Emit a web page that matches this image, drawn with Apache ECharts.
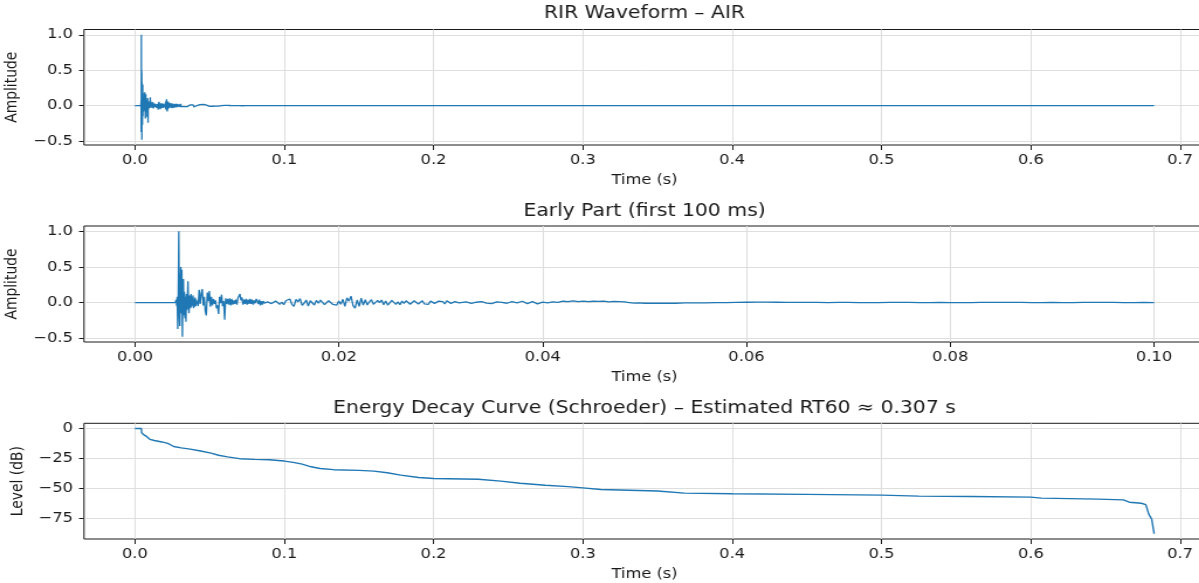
<!DOCTYPE html>
<html>
<head>
<meta charset="utf-8">
<script src="https://cdn.jsdelivr.net/npm/echarts@6/dist/echarts.min.js"></script>
<style>
  html, body { margin: 0; padding: 0; background: #fff; overflow: hidden; }
  /* the reference figure is stretched sideways, so draw narrower and widen */
  #chart { width: 1025px; height: 583px; transform: scaleX(1.1698); transform-origin: 0 0; }
</style>
</head>
<body>
<div id="chart"></div>
<script>
// RIR samples (times in ms, amplitude normalised)
const preMs = [0, 3.95];
const preAmp = [0, 0];

// burst: 4.00 .. 6.00 ms every 0.05 ms
const burstStart = 4.0, burstStep = 0.05;
const burstAmp = [
  0.00, 0.04, -0.05, 0.08, -0.37, 0.12, 1.00, -0.10, -0.33, 0.20,
  0.50, -0.15, 0.46, -0.48, 0.10, 0.33, -0.18, 0.15, -0.22, 0.08,
  -0.27, 0.12, -0.10, 0.06, 0.30, -0.05, -0.15, 0.10, 0.04, -0.08,
  0.12, -0.06, 0.08, -0.04, 0.10, -0.08, 0.05, -0.06, 0.07, -0.05, 0.04
];

// early reflections: 6.1 .. 13.0 ms every 0.1 ms
const reflStart = 6.1, reflStep = 0.1;
const reflAmp = [
  0.06, -0.05, 0.18, -0.02, 0.12, 0.19, -0.04, 0.08, -0.12, -0.18,
  0.14, 0.02, 0.16, -0.06, 0.08, -0.04, 0.05, -0.02, 0.03, -0.08,
  -0.04, -0.16, 0.08, -0.01, 0.11, -0.05, 0.02, -0.24, 0.06, -0.02,
  0.05, -0.03, 0.06, -0.04, 0.05, -0.03, 0.03, -0.02, 0.04, -0.03,
  0.06, 0.08, 0.12, 0.03, 0.07, -0.03, 0.04, -0.02, 0.05, -0.03,
  0.04, -0.02, 0.05, -0.02, 0.04, -0.03, 0.03, -0.01, 0.05, 0.02,
  -0.02, 0.04, -0.04, 0.02, -0.03, 0.02, -0.01, 0.01, -0.02, 0.01
];

// diffuse part: 13.2 .. 32.0 ms every 0.2 ms
const diffStart = 13.2, diffStep = 0.2;
const diffAmp = [
  0.03, -0.015, -0.035, 0.02, 0.035, -0.025, 0.005, -0.03, 0.025, 0.01,
  0.05, -0.025, -0.055, 0.045, 0.01, 0.055, -0.04, -0.01, 0.035, -0.05,
  0.025, 0.005, -0.035, 0.03, -0.01, 0.035, 0.01, -0.03, -0.02, 0.025, 0.035, -0.025, 0.0, -0.035, 0.02,
  -0.025, 0.045, -0.055, 0.065, 0.02, 0.09, -0.045, -0.08, 0.035, -0.055, 0.06, -0.035, 0.04,
  -0.035, 0.01, 0.04, -0.025, -0.04, 0.03, 0.0, 0.035, -0.03, 0.02, -0.035, -0.005, 0.03, 0.04, -0.025, 0.01, -0.03,
  0.02, -0.012, 0.025, 0.005, -0.025, -0.01, 0.025, 0.01, -0.02, 0.0,
  0.025, -0.02, 0.005, -0.025, 0.02, 0.01, -0.012, -0.025, 0.02, 0.0,
  0.012, -0.02, 0.025, 0.005, -0.012, -0.025, 0.012, 0.02, -0.005, -0.02
];

// late part: 32.5 .. 50 ms every 0.5 ms
const lateStart = 32.5, lateStep = 0.5;
const lateAmp = [
  0.01, -0.012, 0.004, 0.012, -0.008, -0.014, 0.01, 0.002, -0.01, 0.012, -0.004,
  0.018, -0.015, 0.012, -0.018,
  0.006, -0.006, 0.008, 0.002,
  0.018, 0.012, 0.022, 0.014, 0.02, 0.012, 0.018, 0.016, 0.02, 0.01, 0.016, 0.012, 0.008,
  0.0, -0.008, -0.004, -0.01
];

// tail of first 100 ms: 51 .. 100 ms every 1 ms
const endStart = 51, endStep = 1;
const endAmp = [
  -0.01, -0.008, -0.01,
  -0.006, -0.004, -0.005, -0.002, 0.0, 0.002, 0.004,
  0.006, 0.005, 0.004, 0.003, 0.002, 0.002,
  0.001, 0.0, 0.002, 0.001, 0.0, -0.001, 0.0, 0.001, 0.002, 0.001,
  0.0, 0.0, 0.001, 0.0, -0.001, 0.0, 0.001, 0.002, 0.003, 0.002,
  0.001, 0.0, 0.0, 0.001, 0.0, 0.0, 0.001, 0.002, 0.002, 0.001,
  0.0, 0.0, 0.001, 0.0
];

// rest of the response up to the end of the file
const tailMs = [110, 150, 200, 300, 400, 500, 600, 682.6];
const tailAmp = [0.001, 0.0, 0.001, 0.0, 0.0, 0.0, 0.0, 0.0];

// Schroeder energy decay curve
const edcSec = [
  0.000, 0.0043, 0.0045, 0.006, 0.008, 0.010, 0.013, 0.018, 0.022, 0.026,
  0.031, 0.037, 0.044, 0.051, 0.056, 0.062, 0.070, 0.080, 0.090, 0.100,
  0.106, 0.112, 0.118, 0.124, 0.133, 0.150, 0.160, 0.169, 0.178, 0.190,
  0.200, 0.230, 0.245, 0.258, 0.275, 0.290, 0.300, 0.312, 0.350, 0.368,
  0.400, 0.450, 0.500, 0.525, 0.560, 0.600, 0.607, 0.645, 0.662, 0.666,
  0.674, 0.677, 0.679, 0.681, 0.6826
];
const edcDb = [
  0, 0, -3.5, -5.3, -6.8, -9, -10, -11.2, -12.4, -15,
  -16.2, -17.2, -18.8, -20.5, -22.3, -23.7, -25.2, -25.8, -26.1, -27.2,
  -28.3, -29.8, -32, -33.4, -34.4, -35, -35.6, -37, -39, -41,
  -41.8, -42.4, -44, -45.7, -47.4, -48.6, -49.6, -51, -52.3, -54,
  -54.5, -55.1, -55.7, -56.5, -56.9, -57.4, -58.2, -59, -59.7, -61.6,
  -62.5, -63.6, -71.6, -75.9, -88
];

// tick labels
const timeTicks = [0, 0.1, 0.2, 0.3, 0.4, 0.5, 0.6, 0.7];
const earlyTicks = [0, 0.02, 0.04, 0.06, 0.08, 0.1];
const ampTicks = [-0.5, 0, 0.5, 1.0];
const dbTicks = [-75, -50, -25, 0];

const SX = 1.1698;   // horizontal stretch of the page
const font = 'DejaVu Sans';
const ink = '#1a1a1a';
const blue = '#1f77b4';

const seg = (start, step, vals) => vals.map((v, i) => [(start + i * step) / 1000, v]);
const pairs = (ms, vals) => vals.map((v, i) => [ms[i] / 1000, v]);

const wave = [].concat(
  pairs(preMs, preAmp),
  seg(burstStart, burstStep, burstAmp),
  seg(reflStart, reflStep, reflAmp),
  seg(diffStart, diffStep, diffAmp),
  seg(lateStart, lateStep, lateAmp),
  seg(endStart, endStep, endAmp)
);
const fullWave = wave.concat(pairs(tailMs, tailAmp));
const edc = edcSec.map((t, i) => [t, edcDb[i]]);

const minus = s => s.replace('-', '\u2212');

const grids = [
  { top: 29.5, height: 115.5 },
  { top: 226, height: 116 },
  { top: 423.3, height: 115.7 }
].map(g => Object.assign(g, {
  left: 84 / SX, right: -6 / SX,
  outerBoundsMode: 'none', containLabel: false,
  show: true, borderColor: ink, borderWidth: 1, backgroundColor: 'transparent'
}));

function xAxis(idx, min, max, ticks, digits) {
  return {
    type: 'value', gridIndex: idx, min: min, max: max,
    name: 'Time (s)', nameLocation: 'middle', nameGap: 28.5,
    nameTextStyle: { fontFamily: font, fontSize: 13.9, color: ink },
    axisLine: { show: false, onZero: false },
    axisTick: { show: true, length: 5, customValues: ticks, lineStyle: { color: ink } },
    axisLabel: {
      customValues: ticks, margin: 8.5, fontFamily: font, fontSize: 13.9, color: ink,
      formatter: v => minus(Number(v).toFixed(digits))
    },
    splitLine: { show: true, lineStyle: { color: '#dedede', width: 1 } }
  };
}

function yAxis(idx, min, max, ticks, digits, name, gap) {
  return {
    type: 'value', gridIndex: idx, min: min, max: max,
    name: name, nameLocation: 'middle', nameGap: gap, nameRotate: 90,
    nameTextStyle: { fontFamily: font, fontSize: 13.9, color: ink },
    axisLine: { show: false, onZero: false },
    axisTick: { show: true, length: 5 / SX, customValues: ticks, lineStyle: { color: ink } },
    axisLabel: {
      customValues: ticks, margin: 9.5, fontFamily: font, fontSize: 13.9, color: ink,
      formatter: v => minus(Number(v).toFixed(digits))
    },
    splitLine: { show: true, lineStyle: { color: '#dedede', width: 1 } }
  };
}

function title(text, top) {
  return {
    text: text, left: 644.5 / SX, top: top, textAlign: 'center', padding: 0,
    textStyle: { fontFamily: font, fontSize: 17.4, fontWeight: 'normal', color: ink }
  };
}

function line(idx, data, width) {
  return {
    type: 'line', xAxisIndex: idx, yAxisIndex: idx, data: data,
    showSymbol: false, symbol: 'none', silent: true,
    lineStyle: { color: blue, width: width }
  };
}

const myChart = echarts.init(document.getElementById('chart'), null, { renderer: 'canvas' });
myChart.setOption({
  animation: false,
  backgroundColor: '#fff',
  title: [
    title('RIR Waveform \u2013 AIR', 5),
    title('Early Part (first 100 ms)', 203),
    title('Energy Decay Curve (Schroeder) \u2013 Estimated RT60 \u2248 0.307 s', 400)
  ],
  grid: grids,
  xAxis: [
    xAxis(0, -0.0341, 0.7167, timeTicks, 1),
    xAxis(1, -0.005, 0.105, earlyTicks, 2),
    xAxis(2, -0.0341, 0.7167, timeTicks, 1)
  ],
  yAxis: [
    yAxis(0, -0.554, 1.074, ampTicks, 1, 'Amplitude', 48.5),
    yAxis(1, -0.554, 1.074, ampTicks, 1, 'Amplitude', 48.5),
    yAxis(2, -92.4, 4.4, dbTicks, 0, 'Level (dB)', 43)
  ],
  series: [
    line(0, fullWave, 1.3),
    line(1, wave, 1.3),
    line(2, edc, 1.4)
  ]
});
</script>
</body>
</html>
